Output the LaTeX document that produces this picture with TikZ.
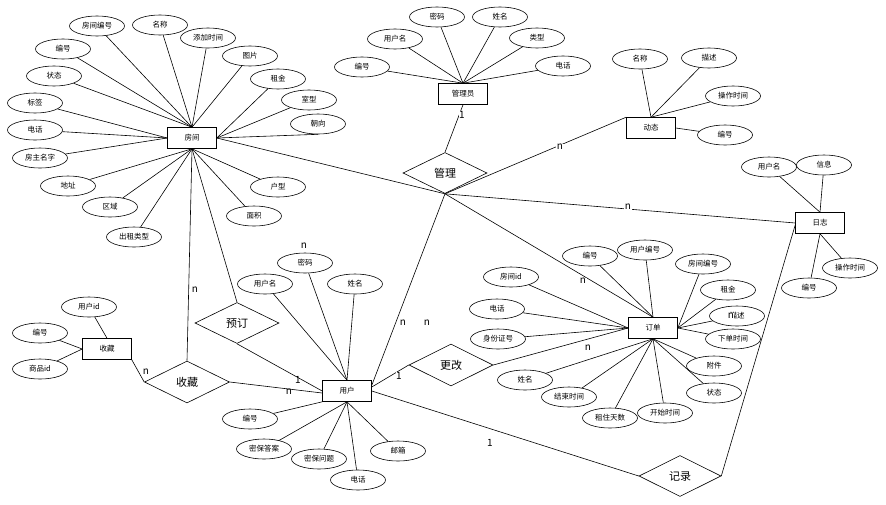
\documentclass[tikz,border=0pt]{standalone}
\usepackage{fontspec}
\setmainfont{Noto Sans CJK SC}
\usetikzlibrary{shapes.geometric,calc}
\begin{document}
\begin{tikzpicture}[x=1pt,y=-1pt,
  every path/.style={line width=0.6pt},
  ent/.style={draw,rectangle,minimum width=49pt,minimum height=21pt,inner sep=0pt,font=\fontsize{7.5}{8}\selectfont},
  attr/.style={draw,ellipse,minimum width=55pt,minimum height=20pt,inner sep=0pt,font=\fontsize{7.5}{8}\selectfont},
  rel/.style={draw,diamond,minimum width=84pt,minimum height=41pt,inner sep=0pt,font=\fontsize{11}{12}\selectfont},
  card/.style={inner sep=0.5pt,font=\fontsize{10}{10}\selectfont}]
\useasboundingbox (0,0) rectangle (886,504);
\fill[white] (0,0) rectangle (886,504);

% entities
\node[ent] (room) at (192,138) {房间};
\node[ent] (admin) at (463,94) {管理员};
\node[ent] (dyn) at (651,128) {动态};
\node[ent] (log) at (820,223) {日志};
\node[ent] (order) at (653,328) {订单};
\node[ent] (user) at (347,391) {用户};
\node[ent] (fav) at (107,349) {收藏};

% relationships
\node[rel] (mgmt) at (445,173) {管理};
\node[rel] (book) at (237,323) {预订};
\node[rel,minimum width=85pt,minimum height=42pt] (favr) at (187,382) {收藏};
\node[rel,minimum height=42pt] (chg) at (451,365) {更改};
\node[rel,minimum width=82pt] (rec) at (680,476) {记录};

% room attributes
\node[attr] (r1) at (97,26) {房间编号};
\node[attr] (r2) at (160,25) {名称};
\node[attr] (r3) at (208,38) {添加时间};
\node[attr] (r4) at (63,49) {编号};
\node[attr] (r5) at (250,56) {图片};
\node[attr] (r6) at (54,76) {状态};
\node[attr] (r7) at (278,79) {租金};
\node[attr] (r8) at (35,103) {标签};
\node[attr] (r9) at (309,100) {室型};
\node[attr] (r10) at (318,124) {朝向};
\node[attr] (r11) at (35,130) {电话};
\node[attr] (r12) at (40,158) {房主名字};
\node[attr] (r13) at (68,186) {地址};
\node[attr] (r14) at (278,187) {户型};
\node[attr] (r15) at (110,207) {区域};
\node[attr] (r16) at (254,216) {面积};
\node[attr] (r17) at (134,237) {出租类型};
\foreach \a in {r1,r2,r3,r4,r5,r6} \draw (\a) -- (room.north);
\foreach \a in {r7,r9} \draw (\a) -- (room.east);
\draw (r10.south) -- (room.east);
\foreach \a in {r8,r11,r12} \draw (\a) -- (room.west);
\foreach \a in {r13,r14,r15,r16,r17} \draw (\a) -- (room.south);

% admin attributes
\node[attr] (a1) at (362,67) {编号};
\node[attr] (a2) at (395,39) {用户名};
\node[attr] (a3) at (437,17) {密码};
\node[attr] (a4) at (500,17) {姓名};
\node[attr] (a5) at (537,38) {类型};
\node[attr] (a6) at (563,66) {电话};
\foreach \a in {a1,a2,a3,a4,a5,a6} \draw (\a) -- (admin.north);

% dynamic attributes
\node[attr] (d1) at (640,59) {名称};
\node[attr] (d2) at (709,58) {描述};
\node[attr] (d3) at (733,96) {操作时间};
\node[attr] (d4) at (725,135) {编号};
\foreach \a in {d1,d2,d3} \draw (\a) -- (dyn.north);
\draw (d4) -- (dyn.east);

% log attributes
\node[attr] (l1) at (769,167) {用户名};
\node[attr] (l2) at (824,165) {信息};
\node[attr] (l3) at (850,268) {操作时间};
\node[attr] (l4) at (809,288) {编号};
\foreach \a in {l1,l2} \draw (\a) -- (log.north);
\foreach \a in {l3,l4} \draw (\a) -- (log.south);

% order attributes
\node[attr] (o1) at (590,256) {编号};
\node[attr] (o2) at (645,250) {用户编号};
\node[attr] (o3) at (703,264) {房间编号};
\node[attr] (o4) at (728,290) {租金};
\node[attr] (o5) at (737,316) {描述};
\node[attr] (o6) at (733,339) {下单时间};
\node[attr] (o7) at (511,277) {房间id};
\node[attr] (o8) at (497,309) {电话};
\node[attr] (o9) at (498,339) {身份证号};
\node[attr] (o10) at (714,366) {附件};
\node[attr] (o11) at (525,380) {姓名};
\node[attr] (o12) at (714,393) {状态};
\node[attr] (o13) at (569,397) {结束时间};
\node[attr] (o14) at (610,418) {租住天数};
\node[attr] (o15) at (665,413) {开始时间};
\foreach \a in {o1,o2} \draw (\a) -- (order.north);
\foreach \a in {o3,o4,o5,o6} \draw (\a) -- (order.east);
\foreach \a in {o7,o8,o9} \draw (\a) -- (order.west);
\foreach \a in {o10,o11,o12,o13,o14,o15} \draw (\a) -- (order.south);
\node[card,fill=white,inner sep=0pt] (ovl) at (731,316) {n};

% user attributes
\node[attr] (u1) at (305,263) {密码};
\node[attr] (u2) at (265,284) {用户名};
\node[attr] (u3) at (355,284) {姓名};
\node[attr] (u4) at (250,419) {编号};
\node[attr] (u5) at (264,449) {密保答案};
\node[attr] (u6) at (319,459) {密保问题};
\node[attr] (u7) at (358,480) {电话};
\node[attr] (u8) at (398,451) {邮箱};
\foreach \a in {u1,u2,u3} \draw (\a) -- (user.north);
\draw (u4) -- (user.south west);
\foreach \a in {u5,u6,u7,u8} \draw (\a) -- (user.south);

% fav attributes
\node[attr] (f1) at (89,307) {用户id};
\node[attr] (f2) at (40,333) {编号};
\node[attr] (f3) at (40,369) {商品id};
\draw (f1) -- (fav.north);
\foreach \a in {f2,f3} \draw (\a) -- (fav.west);

% relationship connectors
\draw (room.south) -- (favr.north);
\draw (room.south) -- (book.north);
\draw (book.south) -- (user.west);
\draw (favr.east) -- ($(user.west)+(0,2)$);
\draw (fav.south east) -- (favr.west);
\draw (mgmt.north) -- (admin.south);
\draw (mgmt.south) -- (room.east);
\draw (mgmt.south) -- (dyn.north west);
\draw (mgmt.south) -- (log.west);
\draw (mgmt.south) -- (order.north);
\draw (mgmt.south) -- ($(user.north east)+(0,5)$);
\draw (chg.west) -- ($(user.east)+(0,-4)$);
\draw (chg.east) -- (order.west);
\draw (user.east) -- (rec.west);
\draw (rec.east) -- ($(log.west)+(0,2)$);

% cardinalities
\node[card] at (195,290) {n};
\node[card] at (298,380) {1};
\node[card] at (289,392) {n};
\node[card] at (146,372) {n};
\node[card,fill=white] at (462,115) {1};
\node[card,fill=white] at (560,147) {n};
\node[card,fill=white] at (628,207) {n};
\node[card,fill=white] at (583,281) {n};
\node[card] at (403,323) {n};
\node[card] at (427,323) {n};
\node[card,fill=white] at (399,376) {1};
\node[card,fill=white] at (588,348) {n};
\node[card] at (490,443) {1};
\node[card] at (304,246) {n};
\end{tikzpicture}
\end{document}
